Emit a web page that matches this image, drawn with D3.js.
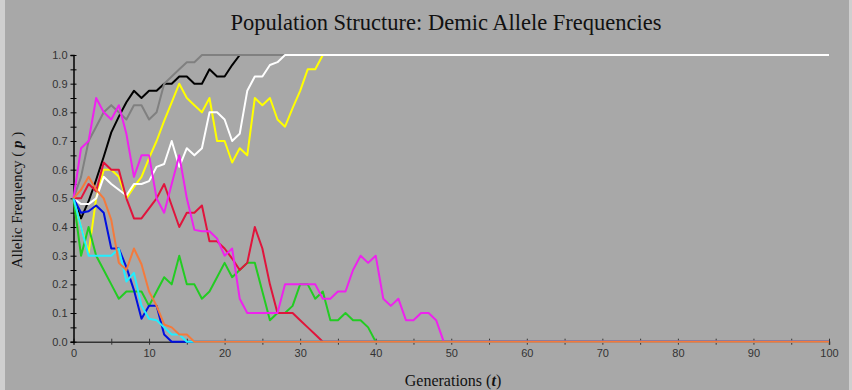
<!DOCTYPE html>
<html>
<head>
<meta charset="utf-8">
<script src="https://cdn.jsdelivr.net/npm/d3@7/dist/d3.min.js"></script>
<style>
  html, body { margin: 0; padding: 0; background: #a8a8a8; }
  svg { display: block; }
</style>
</head>
<body>
<svg id="chart" width="852" height="390"></svg>
<script>
// Allele frequency p per deme, one value per generation (starting at t = 0)
// until the allele is fixed (1) or lost (0); the fixed state then holds to t = 100.
const lastGeneration = 100;

const grayDeme    = [0.5,0.575,0.7,0.75,0.8,0.825,0.8,0.775,0.825,0.825,0.775,0.8,0.9,0.925,0.95,0.975,0.975,1.0];
const blackDeme   = [0.5,0.43,0.49,0.565,0.645,0.73,0.785,0.835,0.875,0.85,0.875,0.875,0.9,0.9,0.925,0.925,0.9,0.9,0.95,0.925,0.925,0.965,1.0];
const yellowDeme  = [0.5,0.4,0.31,0.5,0.6,0.6,0.575,0.5,0.54,0.575,0.64,0.7,0.77,0.835,0.9,0.85,0.825,0.8,0.85,0.7,0.7,0.625,0.675,0.65,0.85,0.825,0.85,0.775,0.75,0.815,0.875,0.95,0.95,1.0];
const whiteDeme   = [0.5,0.48,0.48,0.5,0.575,0.55,0.53,0.51,0.55,0.55,0.56,0.61,0.62,0.7,0.61,0.675,0.65,0.675,0.8,0.8,0.775,0.7,0.725,0.875,0.925,0.925,0.965,0.975,1.0];
const greenDeme   = [0.5,0.3,0.4,0.3,0.25,0.2,0.15,0.175,0.175,0.175,0.125,0.175,0.225,0.2,0.3,0.2,0.2,0.15,0.175,0.225,0.275,0.225,0.25,0.275,0.275,0.175,0.075,0.1,0.1,0.125,0.2,0.2,0.15,0.175,0.075,0.075,0.1,0.075,0.075,0.05,0];
const redDeme     = [0.5,0.5,0.55,0.525,0.625,0.6,0.6,0.5,0.43,0.43,0.465,0.5,0.55,0.475,0.4,0.45,0.45,0.475,0.35,0.35,0.325,0.29,0.25,0.275,0.4,0.325,0.2,0.1,0.1,0.1,0.075,0.05,0.025,0];
const magentaDeme = [0.5,0.675,0.7,0.85,0.8,0.775,0.825,0.725,0.575,0.65,0.65,0.5,0.45,0.55,0.65,0.5,0.39,0.385,0.385,0.36,0.3,0.325,0.15,0.1,0.1,0.1,0.1,0.1,0.2,0.2,0.2,0.2,0.2,0.15,0.15,0.175,0.175,0.25,0.3,0.275,0.3,0.15,0.125,0.15,0.075,0.075,0.1,0.1,0.075,0];
const blueDeme    = [0.5,0.45,0.455,0.475,0.45,0.325,0.325,0.26,0.18,0.08,0.125,0.125,0.025,0,0,0];
const cyanDeme    = [0.5,0.4,0.3,0.3,0.3,0.3,0.325,0.21,0.24,0.125,0.08,0.075,0.05,0.025,0.025,0];
const orangeDeme  = [0.5,0.53,0.575,0.53,0.5,0.425,0.275,0.25,0.325,0.27,0.175,0.125,0.06,0.05,0.025,0.025,0];

// Drawing order: later demes sit on top where lines coincide.
const demes = [
  { values: blackDeme,   color: "#000000" },
  { values: grayDeme,    color: "#808080" },
  { values: yellowDeme,  color: "#ffff00" },
  { values: whiteDeme,   color: "#ffffff" },
  { values: greenDeme,   color: "#22cc22" },
  { values: redDeme,     color: "#e0143c" },
  { values: magentaDeme, color: "#ee22ee" },
  { values: blueDeme,    color: "#0010e0" },
  { values: cyanDeme,    color: "#22eeff" },
  { values: orangeDeme,  color: "#f47a3c" }
];

const xTicks = d3.range(0, 101, 5);
const yTicks = d3.range(0, 21).map(i => i / 20);

const width = 852, height = 390;
const plot = { left: 73.5, right: 829, top: 55, bottom: 341.7 };

const svg = d3.select("#chart");

svg.append("rect").attr("width", width).attr("height", height).attr("fill", "#a8a8a8");
svg.append("rect").attr("x", 0).attr("y", 0).attr("width", 5).attr("height", height).attr("fill", "#cfcfcf");
svg.append("rect").attr("x", width - 3).attr("y", 0).attr("width", 3).attr("height", height).attr("fill", "#cfcfcf");

const x = d3.scaleLinear().domain([0, 100]).range([plot.left, plot.right]);
const y = d3.scaleLinear().domain([0, 1]).range([plot.bottom, plot.top]);

// Title
svg.append("text")
  .attr("x", 446).attr("y", 30)
  .attr("text-anchor", "middle")
  .attr("font-family", "'Liberation Serif', 'Times New Roman', serif")
  .attr("font-size", 22.5)
  .attr("fill", "#111")
  .text("Population Structure: Demic Allele Frequencies");

// Axes (drawn first so the series lines lie over them)
const tickFont = "'Liberation Sans', Arial, sans-serif";

const xAxis = d3.axisBottom(x)
  .tickValues(xTicks)
  .tickSize(3)
  .tickPadding(5)
  .tickFormat(d => d % 10 === 0 ? d3.format("d")(d) : "");
const xg = svg.append("g").attr("transform", `translate(0,${plot.bottom})`).call(xAxis);
xg.select(".domain").attr("stroke", "#333").attr("stroke-width", 1.5);
xg.selectAll(".tick line").attr("y1", -3).attr("y2", 3).attr("stroke", "#333");
xg.selectAll(".tick text")
  .attr("font-family", tickFont).attr("font-size", 11).attr("fill", "#333");

const yAxis = d3.axisLeft(y)
  .tickValues(yTicks)
  .tickSize(3)
  .tickPadding(3)
  .tickFormat(d => Math.round(d * 20) % 2 === 0 ? d3.format(".1f")(d) : "");
const yg = svg.append("g").attr("transform", `translate(${plot.left},0)`).call(yAxis);
yg.select(".domain").attr("stroke", "#000").attr("stroke-width", 1.5);
yg.selectAll(".tick line").attr("x1", -3).attr("x2", 3).attr("stroke", "#000");
yg.selectAll(".tick text")
  .attr("font-family", tickFont).attr("font-size", 11).attr("fill", "#333");

// Series
const line = d3.line().x(d => x(d[0])).y(d => y(d[1]));
const seriesG = svg.append("g");
demes.forEach(dm => {
  const pts = dm.values.map((v, i) => [i, v]);
  const last = dm.values[dm.values.length - 1];
  pts.push([lastGeneration, last]);
  seriesG.append("path")
    .datum(pts)
    .attr("d", line)
    .attr("fill", "none")
    .attr("stroke", dm.color)
    .attr("stroke-width", 2)
    .attr("stroke-linejoin", "round");
});

// Axis titles
const yTitle = svg.append("text")
  .attr("transform", "translate(22,200) rotate(-90)")
  .attr("text-anchor", "middle")
  .attr("font-family", "'Liberation Serif', 'Times New Roman', serif")
  .attr("font-size", 15)
  .attr("fill", "#111");
yTitle.append("tspan").text("Allelic Frequency (\u00a0");
yTitle.append("tspan").attr("font-weight", "bold").attr("font-style", "italic").text("p");
yTitle.append("tspan").text("\u00a0)");

const xTitle = svg.append("text")
  .attr("x", 453).attr("y", 386)
  .attr("text-anchor", "middle")
  .attr("font-family", "'Liberation Serif', 'Times New Roman', serif")
  .attr("font-size", 16)
  .attr("fill", "#111");
xTitle.append("tspan").text("Generations (");
xTitle.append("tspan").attr("font-weight", "bold").attr("font-style", "italic").text("t");
xTitle.append("tspan").text(")");
</script>
</body>
</html>
